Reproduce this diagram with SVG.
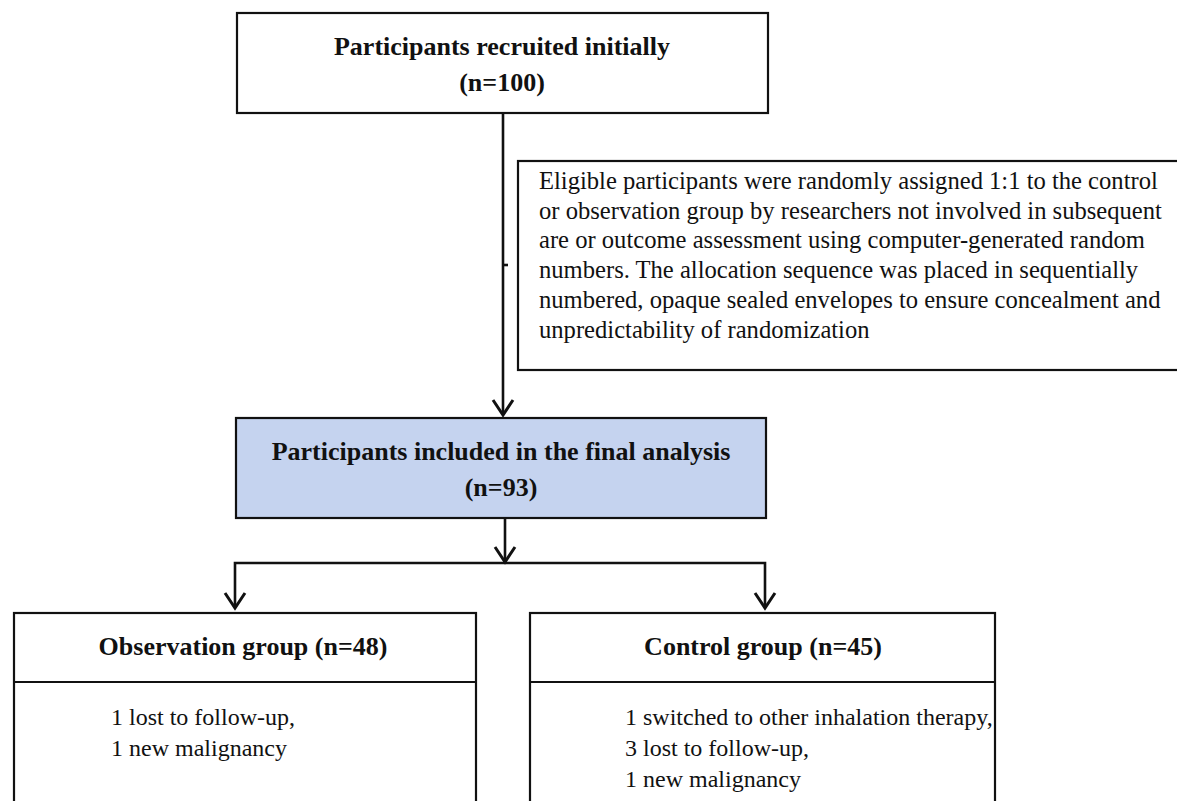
<svg xmlns="http://www.w3.org/2000/svg" width="1177" height="801" viewBox="0 0 1177 801">
<style>
.box{fill:#ffffff;stroke:#111111;stroke-width:2.2}
.blue{fill:#c5d3ef;stroke:#111111;stroke-width:2.2}
.title{font-family:"Liberation Serif","Times New Roman",serif;font-weight:bold;font-size:26px;fill:#111111;text-anchor:middle}
.body{font-family:"Liberation Serif","Times New Roman",serif;font-size:24px;fill:#111111}
.desc{font-family:"Liberation Serif","Times New Roman",serif;font-size:24.6px;fill:#111111}
.conn{fill:none;stroke:#111111;stroke-width:2.6}
.head{fill:none;stroke:#111111;stroke-width:3;stroke-linejoin:miter}
</style>
<rect width="1177" height="801" fill="#ffffff"/>
<g id="connectors">
<path class="conn" d="M503 114 V415"/>
<path class="conn" d="M503 265 H508"/>
<polyline class="head" points="493,400 503,415 513,400"/>
<path class="conn" d="M505 519 V562"/>
<polyline class="head" points="495,547 505,562 515,547"/>
<path class="conn" d="M235 608 V563 H765 V608"/>
<polyline class="head" points="225,593 235,608 245,593"/>
<polyline class="head" points="755,593 765,608 775,593"/>
</g>
<g id="node-recruited">
<rect class="box" x="237" y="13" width="531" height="100"/>
<text class="title" x="502" y="55">Participants recruited initially</text>
<text class="title" x="502" y="91">(n=100)</text>
</g>
<g id="node-randomization">
<rect class="box" x="518" y="161" width="665" height="209"/>
<text class="desc" x="539" y="189">Eligible participants were randomly assigned 1:1 to the control</text>
<text class="desc" x="539" y="219">or observation group by researchers not involved in subsequent</text>
<text class="desc" x="539" y="248">are or outcome assessment using computer-generated random</text>
<text class="desc" x="539" y="278">numbers. The allocation sequence was placed in sequentially</text>
<text class="desc" x="539" y="308">numbered, opaque sealed envelopes to ensure concealment and</text>
<text class="desc" x="539" y="338">unpredictability of randomization</text>
</g>
<g id="node-final">
<rect class="blue" x="236" y="418" width="530" height="100"/>
<text class="title" x="501" y="460">Participants included in the final analysis</text>
<text class="title" x="501" y="496">(n=93)</text>
</g>
<g id="node-observation">
<rect class="box" x="14" y="613" width="462" height="230"/>
<line x1="14" y1="682" x2="476" y2="682" stroke="#111111" stroke-width="2.2"/>
<text class="title" x="243" y="655">Observation group (n=48)</text>
<text class="body" x="111" y="725">1 lost to follow-up,</text>
<text class="body" x="111" y="756">1 new malignancy</text>
</g>
<g id="node-control">
<rect class="box" x="530" y="613" width="465" height="230"/>
<line x1="530" y1="682" x2="995" y2="682" stroke="#111111" stroke-width="2.2"/>
<text class="title" x="763" y="655">Control group (n=45)</text>
<text class="body" x="625" y="725">1 switched to other inhalation therapy,</text>
<text class="body" x="625" y="756">3 lost to follow-up,</text>
<text class="body" x="625" y="787">1 new malignancy</text>
</g>
</svg>
